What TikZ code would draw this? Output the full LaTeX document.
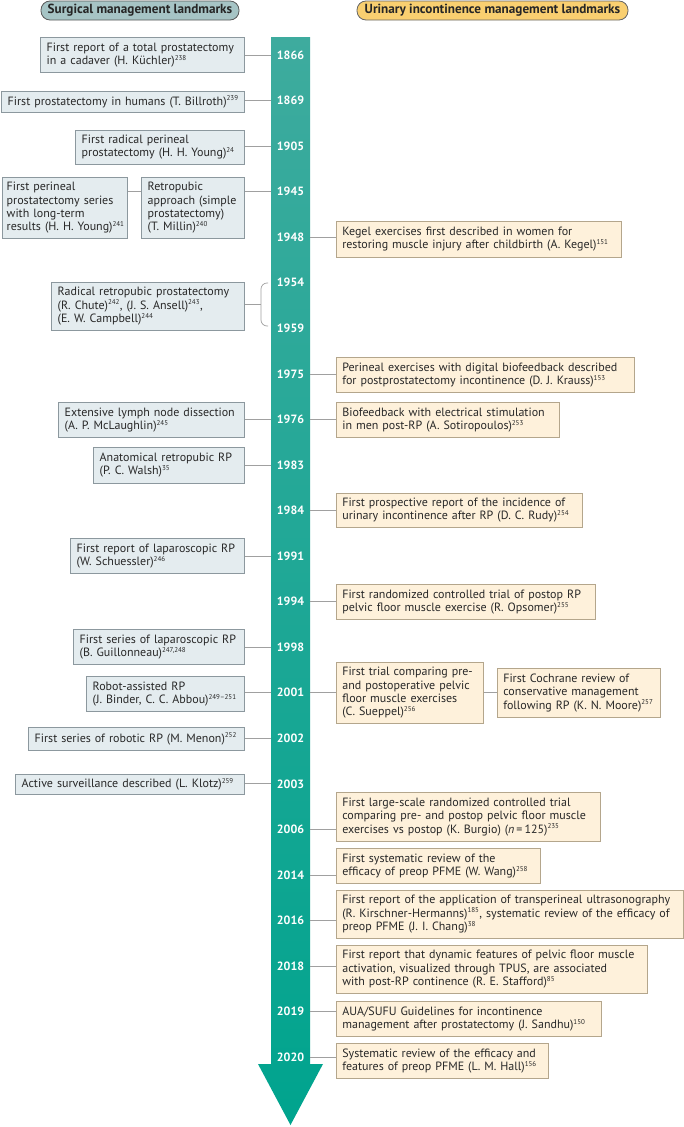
\documentclass[tikz,border=0pt]{standalone}
\usepackage{fontspec}
\setmainfont{PT Sans}
\usepackage{tikz}
\usetikzlibrary{positioning}

\definecolor{barTop}{RGB}{62,171,158}
\definecolor{barBot}{RGB}{0,164,142}
\definecolor{surgFill}{RGB}{228,236,239}
\definecolor{surgLine}{RGB}{140,152,158}
\definecolor{urinFill}{RGB}{254,241,219}
\definecolor{urinLine}{RGB}{180,166,140}
\definecolor{linkGrey}{RGB}{160,160,160}
\definecolor{surgHead}{RGB}{166,196,197}
\definecolor{urinHead}{RGB}{249,207,112}
\definecolor{txt}{RGB}{40,40,40}

\newcommand{\rf}[1]{\textsuperscript{\fontsize{7}{7}\selectfont #1}}

\begin{document}
\begin{tikzpicture}[x=1pt, y=-1pt,
		font=\fontsize{12}{13.3}\selectfont, text=txt,
		surg/.style={draw=surgLine, fill=surgFill, line width=0.6pt, align=left, inner xsep=6pt, inner ysep=3pt, anchor=north east},
		urin/.style={draw=urinLine, fill=urinFill, line width=0.6pt, align=left, inner xsep=6pt, inner ysep=3pt, anchor=north west},
		yearlbl/.style={text=white, font=\fontsize{12}{12}\bfseries, minimum width=39pt, inner sep=0pt},
		link/.style={draw=linkGrey, line width=0.7pt},
		pill/.style={draw, line width=0.8pt, rounded corners=9pt, minimum height=19pt, inner sep=0pt, font=\fontsize{13.2}{13.2}\bfseries, text=black!85}]
		\useasboundingbox (0,0) rectangle (684,1127);

		% headers
		\node[pill, draw=black!65, fill=surgHead, minimum width=198pt] (hsurg) at (140,10.5) {Surgical management landmarks};
		\node[pill, draw=black!60, fill=urinHead, minimum width=271pt] (hurin) at (492.5,10.5) {Urinary incontinence management landmarks};

		% timeline arrow
		\shade[top color=barTop, bottom color=barBot] (271,37) -- (310,37) -- (310,1064) -- (323,1064) -- (290.5,1125) -- (258,1064) -- (271,1064) -- cycle;

		% years
		\foreach \yr [count=\i from 0] in {1866,1869,1905,1945,1948,1954,1959,1975,1976,1983,1984,1991,1994,1998,2001,2002,2003,2006,2014,2016,2018,2019,2020}
			\node[yearlbl] (y\yr) at (290.5,55+45.55*\i) {\yr};

		% surgical management
		\node[surg, text width=192pt, minimum height=35pt] (s1866) at (245,37) {First report of a total prostatectomy\\in a cadaver (H. Küchler)\rf{238}};
		\node[surg, text width=231pt, minimum height=21pt] (s1869) at (245,91) {First prostatectomy in humans (T. Billroth)\rf{239}};
		\node[surg, text width=157pt, minimum height=34pt] (s1905) at (245,130) {First radical perineal\\prostatectomy (H. H. Young)\rf{24}};
		\node[surg, text width=91pt, minimum height=61pt] (s1945) at (245,177) {Retropubic\\approach (simple\\prostatectomy)\\(T. Millin)\rf{240}};
		\node[surg, inner xsep=4pt, text width=117pt, minimum height=61pt] (s1945b) at (128,177) {First perineal\\prostatectomy series\\with long-term\\\mbox{results (H. H. Young)\rf{241}}};
		\node[surg, text width=181pt, minimum height=48pt] (s1954) at (245,282) {Radical retropubic prostatectomy\\(R. Chute)\rf{242}, (J. S. Ansell)\rf{243},\\(E. W. Campbell)\rf{244}};
		\node[surg, text width=174pt, minimum height=35pt] (s1976) at (245,402) {Extensive lymph node dissection\\(A. P. McLaughlin)\rf{245}};
		\node[surg, text width=139pt, minimum height=36pt] (s1983) at (245,447) {Anatomical retropubic RP\\(P. C. Walsh)\rf{35}};
		\node[surg, text width=162pt, minimum height=35pt] (s1991) at (245,538) {First report of laparoscopic RP\\(W. Schuessler)\rf{246}};
		\node[surg, text width=159pt, minimum height=35pt] (s1998) at (245,629) {First series of laparoscopic RP\\(B. Guillonneau)\rf{247,248}};
		\node[surg, text width=146pt, minimum height=35pt] (s2001) at (245,676) {Robot-assisted RP\\(J. Binder, C. C. Abbou)\rf{249--251}};
		\node[surg, text width=204pt, minimum height=23pt] (s2002) at (245,727) {First series of robotic RP (M. Menon)\rf{252}};
		\node[surg, text width=217pt, minimum height=20pt] (s2003) at (245,774) {Active surveillance described (L. Klotz)\rf{259}};

		% urinary incontinence management
		\node[urin, text width=273pt, minimum height=36pt] (u1948) at (336,221) {Kegel exercises first described in women for\\restoring muscle injury after childbirth (A. Kegel)\rf{151}};
		\node[urin, text width=286pt, minimum height=35pt] (u1975) at (336,357) {Perineal exercises with digital biofeedback described\\for postprostatectomy incontinence (D. J. Krauss)\rf{153}};
		\node[urin, text width=211pt, minimum height=35pt] (u1976) at (336,402) {Biofeedback with electrical stimulation\\in men post-RP (A. Sotiropoulos)\rf{253}};
		\node[urin, text width=234pt, minimum height=34pt] (u1984) at (336,493) {First prospective report of the incidence of\\urinary incontinence after RP (D. C. Rudy)\rf{254}};
		\node[urin, text width=247pt, minimum height=35pt] (u1994) at (336,584) {First randomized controlled trial of postop RP\\pelvic floor muscle exercise (R. Opsomer)\rf{255}};
		\node[urin, text width=135pt, minimum height=61pt] (u2001) at (336,662) {First trial comparing pre-\\and postoperative pelvic\\floor muscle exercises\\(C. Sueppel)\rf{256}};
		\node[urin, text width=151pt, minimum height=49pt] (u2001b) at (497,668) {First Cochrane review of\\conservative management\\following RP (K. N. Moore)\rf{257}};
		\node[urin, text width=252pt, minimum height=49pt] (u2006) at (336,792) {First large-scale randomized controlled trial\\comparing pre- and postop pelvic floor muscle\\exercises vs postop (K. Burgio) (\textit{n}\,=\,125)\rf{235}};
		\node[urin, text width=192pt, minimum height=35pt] (u2014) at (336,848) {First systematic review of the\\efficacy of preop PFME (W. Wang)\rf{258}};
		\node[urin, text width=335pt, minimum height=48pt] (u2016) at (336,890) {First report of the application of transperineal ultrasonography\\(R. Kirschner-Hermanns)\rf{185}, systematic review of the efficacy of\\preop PFME (J. I. Chang)\rf{38}};
		\node[urin, text width=299pt, minimum height=48pt] (u2018) at (336,945) {First report that dynamic features of pelvic floor muscle\\activation, visualized through TPUS, are associated\\with post-RP continence (R. E. Stafford)\rf{85}};
		\node[urin, text width=253pt, minimum height=35pt] (u2019) at (336,1001) {AUA/SUFU Guidelines for incontinence\\management after prostatectomy (J. Sandhu)\rf{150}};
		\node[urin, text width=200pt, minimum height=35pt] (u2020) at (336,1043) {Systematic review of the efficacy and\\features of preop PFME (L. M. Hall)\rf{156}};

		% connectors, left side
		\foreach \yr in {1866,1869,1905,1945,1976,1983,1991,1998,2001,2002,2003}
			\draw[link] (s\yr.east |- y\yr.west) -- (y\yr.west);
		\draw[link] (s1945b.east |- y1945.west) -- (s1945.west |- y1945.west);

		% bracket for 1954-1959
		\coordinate (brmid) at (261,304);
		\draw[link, rounded corners=6pt] (268,283) -- (261,283) -- (261,326) -- (268,326);
		\draw[link] (s1954.east |- brmid) -- (brmid);

		% connectors, right side
		\foreach \yr in {1948,1975,1976,1984,1994,2001,2006,2014,2016,2018,2019,2020}
			\draw[link] (y\yr.east) -- (u\yr.west |- y\yr.east);
		\draw[link] (u2001.east |- y2001.east) -- (u2001b.west |- y2001.east);

	\end{tikzpicture}
\end{document}
